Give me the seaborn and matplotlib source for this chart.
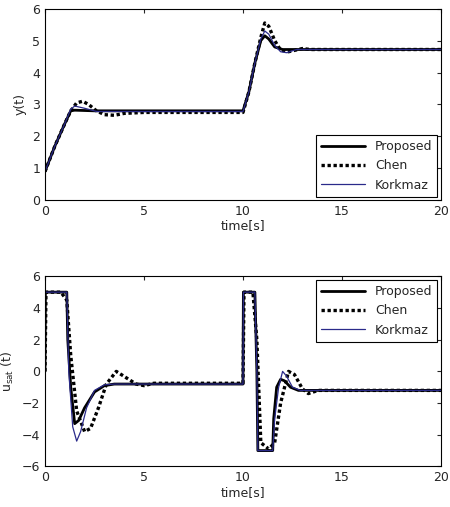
import numpy as np
import pandas as pd
import matplotlib
matplotlib.use("Agg")
import matplotlib.pyplot as plt
import seaborn as sns

# ---- y(t) breakpoints ----
t_y_prop = [0, 0.5, 1.0, 1.3, 1.5, 2.5, 10, 10.3, 10.6, 10.9, 11.1, 11.3, 11.6, 12, 20]
y_prop = [0.9, 1.7, 2.4, 2.8, 2.82, 2.8, 2.8, 3.4, 4.3, 5.0, 5.15, 5.05, 4.8, 4.72, 4.72]
t_y_chen = [0, 0.5, 1.0, 1.3, 1.6, 1.9, 2.2, 2.6, 3.0, 3.5, 4.0, 5, 10, 10.3, 10.6, 10.9,
            11.1, 11.3, 11.6, 11.9, 12.3, 13, 13.4, 20]
y_chen = [0.9, 1.7, 2.4, 2.8, 3.05, 3.1, 3.0, 2.8, 2.68, 2.66, 2.72, 2.75, 2.75, 3.4, 4.3, 5.1,
          5.55, 5.45, 5.0, 4.7, 4.65, 4.75, 4.72, 4.72]
t_y_kork = [0, 0.5, 1.0, 1.3, 1.5, 2.0, 2.6, 10, 10.3, 10.6, 10.9, 11.1, 11.3, 11.6, 11.9, 12.2, 12.7, 20]
y_kork = [0.9, 1.7, 2.4, 2.85, 2.95, 2.88, 2.78, 2.78, 3.4, 4.3, 5.05, 5.3, 5.2, 4.85, 4.65, 4.62, 4.72, 4.72]

# ---- u_sat(t) breakpoints ----
t_u_prop = [0, 0.02, 1.1, 1.15, 1.3, 1.5, 1.7, 2.0, 2.5, 3.0, 3.5, 10, 10.02, 10.6, 10.7,
            10.75, 11.5, 11.55, 11.7, 11.9, 12.1, 12.4, 12.8, 13.5, 20]
u_prop = [0, 5, 5, 2, -1, -3.3, -3.1, -2.3, -1.3, -0.9, -0.8, -0.8, 5, 5, 0,
          -5, -5, -3, -1, -0.5, -0.6, -1.0, -1.2, -1.2, -1.2]
t_u_chen = [0, 0.05, 0.8, 1.1, 1.3, 1.6, 2.0, 2.3, 2.7, 3.1, 3.6, 4.1, 4.6, 5.0, 5.5, 10, 10.05,
            10.5, 10.7, 10.9, 11.3, 11.6, 11.9, 12.3, 12.6, 13.0, 13.3, 13.8, 20]
u_chen = [0, 5, 5, 4.5, 1, -2.5, -3.8, -3.6, -2.3, -0.8, 0, -0.4, -0.8, -0.9, -0.75, -0.75, 5,
          5, 2, -4.5, -4.9, -4.5, -2, 0, -0.2, -1.1, -1.4, -1.2, -1.2]
t_u_kork = [0, 0.02, 1.1, 1.2, 1.4, 1.6, 1.8, 2.1, 2.5, 3.0, 3.5, 10, 10.02, 10.6, 10.7,
            10.75, 11.5, 11.6, 11.8, 12.0, 12.2, 12.5, 12.9, 13.5, 20]
u_kork = [0, 5, 5, 0, -3.5, -4.4, -3.8, -2.3, -1.2, -0.85, -0.8, -0.8, 5, 5, 0,
          -5, -5, -3, -1, 0, -0.3, -1.0, -1.2, -1.2, -1.2]

sns.set_style("white")
plt.rcParams['font.family'] = ['DejaVu Sans']

fig = plt.figure(figsize=(4.5, 5.07), dpi=100)
ax1 = fig.add_axes([0.1, 0.605, 0.88, 0.378])
ax2 = fig.add_axes([0.1, 0.08, 0.88, 0.375])

styles = [("Proposed", dict(color="black", lw=2.0, ls="-")),
          ("Chen", dict(color="black", lw=2.4, ls=(0, (1, 0.8)))),
          ("Korkmaz", dict(color="#2a2a8a", lw=0.9, ls="-"))]

def draw(ax, series, ylim, yticks, ylabel):
    for (name, st), (t, v) in zip(styles, series):
        df = pd.DataFrame({"t": t, "v": v})
        sns.lineplot(data=df, x="t", y="v", ax=ax, sort=False, estimator=None,
                     label=name, **st)
    ax.set_xlim(0, 20)
    ax.set_ylim(*ylim)
    ax.set_xticks([0, 5, 10, 15, 20])
    ax.set_yticks(yticks)
    ax.set_xlabel("time[s]", fontsize=9, labelpad=1)
    ax.set_ylabel(ylabel, fontsize=9)
    ax.tick_params(direction="in", top=True, right=True, labelsize=9, length=3)
    for s in ax.spines.values():
        s.set_color("black")
        s.set_linewidth(0.8)

draw(ax1, [(t_y_prop, y_prop), (t_y_chen, y_chen), (t_y_kork, y_kork)],
     (0, 6), range(0, 7), "y(t)")
draw(ax2, [(t_u_prop, u_prop), (t_u_chen, u_chen), (t_u_kork, u_kork)],
     (-6, 6), range(-6, 7, 2), r"u$_{\rm sat}$ (t)")

for ax, loc in [(ax1, "lower right"), (ax2, "upper right")]:
    leg = ax.legend(loc=loc, fontsize=9, fancybox=False, framealpha=1,
                    edgecolor="black", handlelength=3.5, borderaxespad=0.3)
    leg.get_frame().set_linewidth(0.8)

fig.savefig("out.png", dpi=100)
